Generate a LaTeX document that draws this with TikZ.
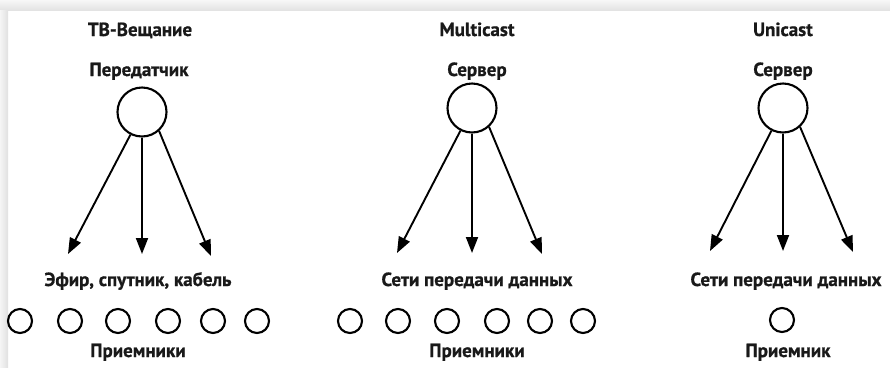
\documentclass[tikz,border=0pt]{standalone}
\usepackage{fontspec}
\setmainfont{PT Sans}[BoldFeatures={FakeBold=0.8}]
\usetikzlibrary{arrows.meta}

\tikzset{
  lbl/.style={font=\fontsize{19bp}{22bp}\selectfont\bfseries, text=black!90, anchor=base, inner sep=0pt},
  hub/.style={draw, circle, line width=2.1bp, minimum size=49bp, inner sep=0pt},
  rx/.style={draw, circle, line width=2.1bp, minimum size=24bp, inner sep=0pt},
  link/.style={line width=1.9bp, -{Triangle[length=16bp, width=12bp]}},
}

\begin{document}
\begin{tikzpicture}[x=1bp, y=-1bp]
  \useasboundingbox (0,0) rectangle (890,367);
  % frame shadow along the top and left edges
  \shade[top color=gray!6, bottom color=gray!22] (0,0) rectangle (890,10);
  \shade[left color=gray!8, right color=gray!24] (0,10) rectangle (8,367);

  % ---------- TV broadcast ----------
  \node[lbl] (t1) at (140,36) {ТВ-Вещание};
  \node[lbl] (s1) at (139,76) {Передатчик};
  \node[hub] (h1) at (142,112) {};
  \coordinate (a1) at (68,254);
  \coordinate (b1) at (142,254);
  \coordinate (c1) at (211,256);
  \draw[link] (h1.-117) -- (a1);
  \draw[link] (h1.south) -- (b1);
  \draw[link] (h1.-48) -- (c1);
  \node[lbl] (m1) at (138,286) {Эфир, спутник, кабель};
  \foreach \x [count=\i] in {20,70,118,168,213,257}
    \node[rx] (r1\i) at (\x,321) {};
  \node[lbl] (p1) at (138,357) {Приемники};

  % ---------- Multicast ----------
  \node[lbl] (t2) at (477,36) {Multicast};
  \node[lbl] (s2) at (477,76) {Сервер};
  \node[hub] (h2) at (472,108) {};
  \coordinate (a2) at (397,253);
  \coordinate (b2) at (472,253);
  \coordinate (c2) at (542,254);
  \draw[link] (h2.-117) -- (a2);
  \draw[link] (h2.south) -- (b2);
  \draw[link] (h2.-48) -- (c2);
  \node[lbl] (m2) at (477,286) {Сети передачи данных};
  \foreach \x [count=\i] in {350,398,447,497,540,583}
    \node[rx] (r2\i) at (\x,321) {};
  \node[lbl] (p2) at (477,357) {Приемники};

  % ---------- Unicast ----------
  \node[lbl] (t3) at (783,36) {Unicast};
  \node[lbl] (s3) at (783,76) {Сервер};
  \node[hub] (h3) at (783,108) {};
  \coordinate (a3) at (710,251);
  \coordinate (b3) at (783,251);
  \coordinate (c3) at (853,252);
  \draw[link] (h3.-117) -- (a3);
  \draw[link] (h3.south) -- (b3);
  \draw[link] (h3.-48) -- (c3);
  \node[lbl] (m3) at (786,286) {Сети передачи данных};
  \node[rx] (r31) at (782,320) {};
  \node[lbl] (p3) at (788,357) {Приемник};
\end{tikzpicture}
\end{document}
